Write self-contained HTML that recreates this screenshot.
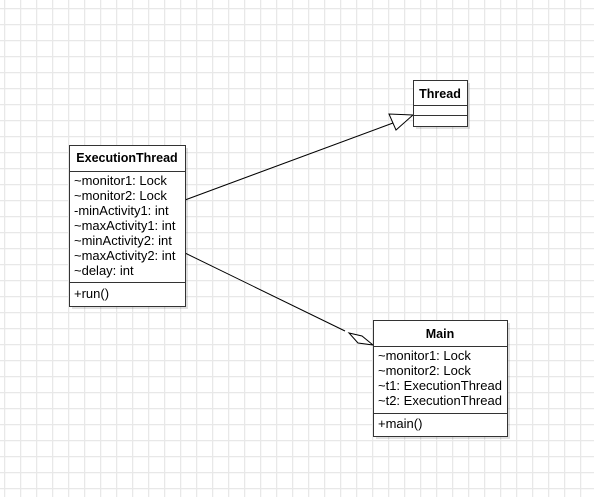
<!DOCTYPE html>
<html><head><style>
html,body{margin:0;padding:0;background:#fff;}
svg{display:block;font-family:"Liberation Sans",sans-serif;}
</style></head><body>
<svg width="594" height="497" viewBox="0 0 594 497" xmlns="http://www.w3.org/2000/svg">
<defs>
<pattern id="g" x="4" y="8" width="16" height="16" patternUnits="userSpaceOnUse">
<path d="M0.5 0V16M0 0.5H16" stroke="#e8e8e8" stroke-width="1.5" fill="none"/>
</pattern>
</defs>
<rect width="594" height="497" fill="url(#g)"/>
<rect x="72" y="148" width="116" height="161" fill="#000" opacity="0.12"/>
<rect x="416" y="83" width="54" height="46" fill="#000" opacity="0.12"/>
<rect x="376" y="323" width="134" height="116" fill="#000" opacity="0.12"/>
<line x1="185" y1="200" x2="393" y2="123" stroke="#000" stroke-width="1"/>
<polygon points="413,115 389,114 396,130" fill="#fff" stroke="#000" stroke-width="1"/>
<line x1="185" y1="253" x2="345" y2="331" stroke="#000" stroke-width="1"/>
<polygon points="373,345 362,336 349,333 358,343" fill="#fff" stroke="#000" stroke-width="1"/>
<g stroke="#333" fill="#fff">
<rect x="69.5" y="145.5" width="116" height="161"/>
<line x1="69.5" y1="171.5" x2="185.5" y2="171.5"/>
<line x1="69.5" y1="282.5" x2="185.5" y2="282.5"/>
<rect x="413.5" y="80.5" width="54" height="46"/>
<line x1="413.5" y1="105.5" x2="467.5" y2="105.5"/>
<line x1="413.5" y1="115.5" x2="467.5" y2="115.5"/>
<rect x="373.5" y="320.5" width="134" height="116"/>
<line x1="373.5" y1="346.5" x2="507.5" y2="346.5"/>
<line x1="373.5" y1="413.5" x2="507.5" y2="413.5"/>
</g>
<g font-size="13" fill="#000">
<text x="127" y="162" text-anchor="middle" font-weight="bold" font-size="12.5">ExecutionThread</text>
<text x="74" y="185">~monitor1: Lock</text>
<text x="74" y="200">~monitor2: Lock</text>
<text x="74" y="215">-minActivity1: int</text>
<text x="74" y="230">~maxActivity1: int</text>
<text x="74" y="245">~minActivity2: int</text>
<text x="74" y="260">~maxActivity2: int</text>
<text x="74" y="275">~delay: int</text>
<text x="74" y="298">+run()</text>
<text x="440" y="98" text-anchor="middle" font-weight="bold" font-size="12.5">Thread</text>
<text x="440" y="338" text-anchor="middle" font-weight="bold" font-size="12.5">Main</text>
<text x="378" y="360">~monitor1: Lock</text>
<text x="378" y="375">~monitor2: Lock</text>
<text x="378" y="390">~t1: ExecutionThread</text>
<text x="378" y="405">~t2: ExecutionThread</text>
<text x="378" y="428">+main()</text>
</g>
</svg>
</body></html>
